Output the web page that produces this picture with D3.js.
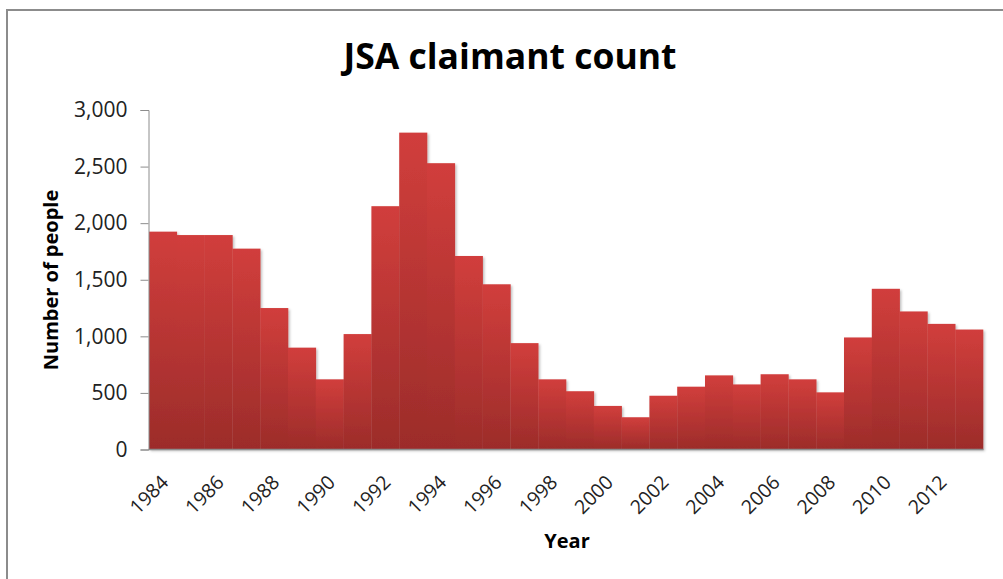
<!DOCTYPE html>
<html>
<head>
<meta charset="utf-8">
<script src="https://cdn.jsdelivr.net/npm/d3@7"></script>
<style>
  body { margin: 0; background: #fff; }
  text { font-family: "Open Sans", "DejaVu Sans", sans-serif; }
</style>
</head>
<body>
<div class="chart"></div>
<script>
const years = [1984, 1985, 1986, 1987, 1988, 1989, 1990, 1991, 1992, 1993,
               1994, 1995, 1996, 1997, 1998, 1999, 2000, 2001, 2002, 2003,
               2004, 2005, 2006, 2007, 2008, 2009, 2010, 2011, 2012, 2013];
const claimants = [1925, 1895, 1895, 1775, 1250, 900, 620, 1020, 2150, 2800,
                   2530, 1710, 1460, 940, 620, 515, 385, 285, 475, 555,
                   655, 575, 665, 620, 505, 990, 1420, 1220, 1110, 1060];
const yTicks = [0, 500, 1000, 1500, 2000, 2500, 3000];
const xTickYears = years.filter(y => y % 2 === 0);

const width = 1003;
const height = 579;

const svg = d3.select(".chart")
    .append("svg")
    .attr("width", width)
    .attr("height", height);

// chart frame
svg.append("rect")
    .attr("x", 7).attr("y", 10)
    .attr("width", 1010).attr("height", 600)
    .attr("fill", "none")
    .attr("stroke", "#8c8c8c")
    .attr("stroke-width", 2);

const x = d3.scaleBand()
    .domain(years)
    .range([149, 983])
    .padding(0);

const y = d3.scaleLinear()
    .domain([0, 3000])
    .range([449.5, 110]);

const defs = svg.append("defs");
const grad = defs.append("linearGradient")
    .attr("id", "barGrad")
    .attr("x1", 0).attr("y1", 0).attr("x2", 0).attr("y2", 1);
grad.append("stop").attr("offset", "0%").attr("stop-color", "#d13e3c");
grad.append("stop").attr("offset", "100%").attr("stop-color", "#9c2c2a");

const shadow = defs.append("filter").attr("id", "shadow")
    .attr("x", "-10%").attr("y", "-10%").attr("width", "130%").attr("height", "130%");
shadow.append("feDropShadow")
    .attr("dx", 1.5).attr("dy", 1.5).attr("stdDeviation", 1.2)
    .attr("flood-color", "#000").attr("flood-opacity", 0.25);

svg.append("g")
    .attr("filter", "url(#shadow)")
    .selectAll("rect")
    .data(years)
    .enter()
    .append("rect")
    .attr("x", d => x(d))
    .attr("y", (d, i) => y(claimants[i]))
    .attr("width", x.bandwidth() + 0.3)
    .attr("height", (d, i) => y(0) - y(claimants[i]))
    .style("fill", "url(#barGrad)");

// y axis
const yAxis = svg.append("g")
    .attr("transform", "translate(148.5,0)")
    .call(d3.axisLeft(y).tickValues(yTicks).tickSize(8).tickPadding(13)
        .tickFormat(d3.format(",")));
yAxis.select(".domain").attr("stroke", "#8c8c8c");
yAxis.selectAll(".tick line").attr("stroke", "#8c8c8c");
yAxis.selectAll("text")
    .style("font-size", "21px")
    .attr("fill", "#222");

// x axis line
svg.append("line")
    .attr("x1", 148.5).attr("x2", 983.5)
    .attr("y1", 449.5).attr("y2", 449.5)
    .attr("stroke", "#8c8c8c")
    .attr("stroke-width", 1.5);

svg.append("g")
    .selectAll("text")
    .data(xTickYears)
    .enter()
    .append("text")
    .attr("transform", d => `translate(${x(d) + x.bandwidth() / 2 - 3},${474}) rotate(-45)`)
    .attr("text-anchor", "end")
    .attr("dy", "0.7em")
    .style("font-size", "19.5px")
    .attr("fill", "#222")
    .text(d => d);

// titles
svg.append("text")
    .attr("x", 510)
    .attr("y", 69)
    .attr("text-anchor", "middle")
    .style("font-size", "35.5px")
    .style("font-weight", "bold")
    .text("JSA claimant count");

svg.append("text")
    .attr("x", 567)
    .attr("y", 548)
    .attr("text-anchor", "middle")
    .style("font-size", "20px")
    .style("font-weight", "bold")
    .text("Year");

svg.append("text")
    .attr("transform", "translate(58,280) rotate(-90)")
    .attr("text-anchor", "middle")
    .style("font-size", "20px")
    .style("font-weight", "bold")
    .text("Number of people");
</script>
</body>
</html>
